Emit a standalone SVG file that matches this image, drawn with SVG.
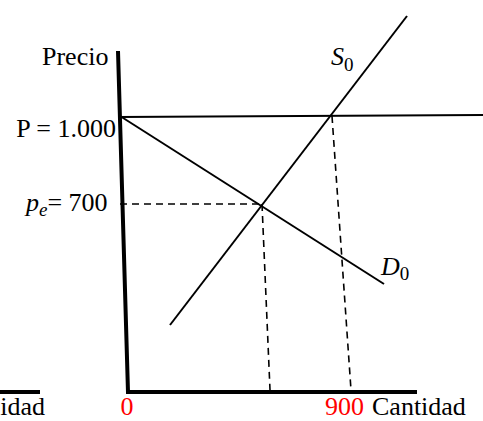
<svg xmlns="http://www.w3.org/2000/svg" width="483" height="421" viewBox="0 0 483 421">
<style>
.t{font-family:"Liberation Serif","Times New Roman",serif;font-size:26px;fill:#000}
.r{fill:#ff0000}
.m{font-family:"Liberation Serif","Times New Roman",serif;font-size:26px;font-style:italic;fill:#000}
.sub{font-style:normal;font-size:19px}
.ax{stroke:#000;stroke-width:4;fill:none}
.ln{stroke:#000;stroke-width:2;fill:none}
.ds{stroke:#000;stroke-width:1.6;stroke-dasharray:7,5;fill:none}
</style>
<rect width="483" height="421" fill="#fff"/>
<g id="connectors">
<line class="ds" x1="120" y1="204" x2="262" y2="204"/>
<line class="ds" x1="262" y1="204" x2="270" y2="390"/>
<line class="ds" x1="332" y1="116" x2="351" y2="390"/>
<line class="ln" x1="118" y1="117" x2="483" y2="115"/>
<line class="ln" x1="170" y1="325" x2="407" y2="16"/>
<line class="ln" x1="120" y1="116" x2="384" y2="284"/>
</g>
<g id="axes">
<polyline class="ax" points="118,51 128,392 417,392"/>
<line class="ax" x1="0" y1="392" x2="40" y2="392"/>
</g>
<g id="labels">
<text class="t" x="42" y="65">Precio</text>
<text class="t" x="116" y="137" text-anchor="end">P = 1.000</text>
<text class="m" x="26" y="211">p<tspan class="sub" style="font-style:italic" dy="5">e</tspan><tspan style="font-style:normal" dy="-5">= 700</tspan></text>
<text class="m" x="331" y="65">S<tspan class="sub" dy="6">0</tspan></text>
<text class="m" x="381" y="275">D<tspan class="sub" dy="5">0</tspan></text>
<text class="t r" x="127" y="415" text-anchor="middle">0</text>
<text class="t r" x="325" y="415">900</text>
<text class="t" x="372" y="415">Cantidad</text>
<text class="t" x="45" y="415" text-anchor="end">idad</text>
</g>
</svg>
